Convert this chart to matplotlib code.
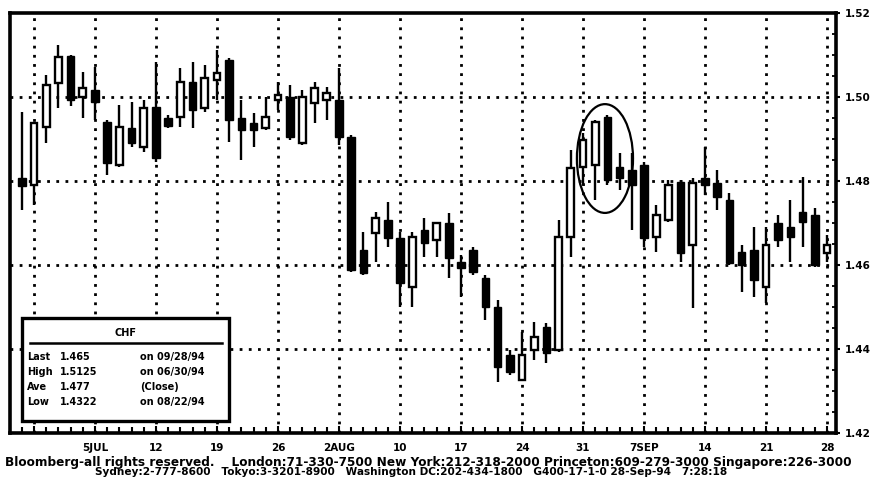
import matplotlib
matplotlib.use("Agg")
import matplotlib.pyplot as plt
from matplotlib.patches import Ellipse, Rectangle
from matplotlib.lines import Line2D
import numpy as np

plt.rcParams['font.family'] = ['DejaVu Sans']
plt.rcParams['font.weight'] = 'bold'

# Daily CHF bars (trading-day index; 0 = week before 5 July)
day_index = list(range(-1, 66))
opens = [1.4807, 1.4790, 1.4929, 1.5033, 1.5098, 1.5000, 1.5017, 1.4940, 1.4838, 1.4926,
         1.4881, 1.4976, 1.4950, 1.4952, 1.5036, 1.4974, 1.5040, 1.5088, 1.4950, 1.4938,
         1.4926, 1.4993, 1.5000, 1.4890, 1.4986, 1.4993, 1.4993, 1.4905, 1.4636, 1.4676,
         1.4707, 1.4664, 1.4548, 1.4683, 1.4660, 1.4700, 1.4607, 1.4636, 1.4569, 1.4500,
         1.4386, 1.4326, 1.4398, 1.4452, 1.4398, 1.4667, 1.4833, 1.4838, 1.4952, 1.4833,
         1.4826, 1.4838, 1.4667, 1.4707, 1.4798, 1.4648, 1.4807, 1.4795, 1.4755, 1.4631,
         1.4636, 1.4548, 1.4700, 1.4690, 1.4726, 1.4719, 1.4629]
highs = [1.4964, 1.4940, 1.5052, 1.5125, 1.5100, 1.5060, 1.5071, 1.4945, 1.4981, 1.4988,
         1.4993, 1.5083, 1.4957, 1.5069, 1.5083, 1.5076, 1.5112, 1.5093, 1.4993, 1.4962,
         1.5000, 1.5036, 1.5029, 1.5017, 1.5036, 1.5024, 1.5069, 1.4910, 1.4679, 1.4726,
         1.4750, 1.4679, 1.4679, 1.4712, 1.4702, 1.4724, 1.4624, 1.4643, 1.4576, 1.4517,
         1.4398, 1.4440, 1.4464, 1.4462, 1.4707, 1.4874, 1.4914, 1.4945, 1.4957, 1.4867,
         1.4867, 1.4845, 1.4743, 1.4802, 1.4802, 1.4807, 1.4881, 1.4826, 1.4771, 1.4648,
         1.4690, 1.4690, 1.4719, 1.4755, 1.4810, 1.4736, 1.4671]
lows = [1.4731, 1.4743, 1.4890, 1.4974, 1.4979, 1.4950, 1.4945, 1.4814, 1.4833, 1.4881,
        1.4869, 1.4845, 1.4926, 1.4929, 1.4926, 1.4964, 1.4993, 1.4893, 1.4850, 1.4881,
        1.4921, 1.4969, 1.4898, 1.4886, 1.4938, 1.4945, 1.4886, 1.4583, 1.4576, 1.4607,
        1.4643, 1.4500, 1.4500, 1.4619, 1.4619, 1.4569, 1.4524, 1.4576, 1.4469, 1.4322,
        1.4338, 1.4325, 1.4374, 1.4367, 1.4393, 1.4619, 1.4790, 1.4755, 1.4790, 1.4779,
        1.4683, 1.4643, 1.4631, 1.4702, 1.4607, 1.4498, 1.4767, 1.4731, 1.4600, 1.4536,
        1.4524, 1.4510, 1.4643, 1.4607, 1.4643, 1.4595, 1.4607]
closes = [1.4788, 1.4938, 1.5029, 1.5095, 1.4993, 1.5021, 1.4988, 1.4843, 1.4929, 1.4890,
          1.4974, 1.4855, 1.4931, 1.5036, 1.4969, 1.5045, 1.5057, 1.4945, 1.4921, 1.4921,
          1.4952, 1.5005, 1.4905, 1.5000, 1.5021, 1.5010, 1.4905, 1.4588, 1.4581, 1.4712,
          1.4664, 1.4557, 1.4667, 1.4652, 1.4700, 1.4617, 1.4593, 1.4583, 1.4500, 1.4357,
          1.4345, 1.4386, 1.4429, 1.4390, 1.4667, 1.4831, 1.4898, 1.4940, 1.4802, 1.4807,
          1.4790, 1.4664, 1.4719, 1.4790, 1.4629, 1.4795, 1.4790, 1.4762, 1.4605, 1.4600,
          1.4564, 1.4648, 1.4660, 1.4667, 1.4702, 1.4600, 1.4648]

week_ticks = list(range(0, 66, 5))
week_labels = ['', '5JUL', '12', '19', '26', '2AUG', '10', '17', '24', '31', '7SEP', '14', '21', '28']
price_ticks = [1.42, 1.44, 1.46, 1.48, 1.50, 1.52]
price_labels = ['1.42', '1.44', '1.46', '1.48', '1.50', '1.52']

stat_names = ['Last', 'High', 'Ave', 'Low']
stat_notes = ['on 09/28/94', 'on 06/30/94', '(Close)', 'on 08/22/94']

W, H = 873, 486
fig = plt.figure(figsize=(W / 100, H / 100), dpi=100)
fig.patch.set_facecolor('white')


def fx(px):
    return px / W


def fy(py):
    return 1 - py / H


ax = fig.add_axes([fx(10), fy(433), (836 - 10) / W, (433 - 13) / H])
ax.set_facecolor('white')

x = np.array(day_index)
o = np.array(opens)
c = np.array(closes)
hi = np.array(highs)
lo = np.array(lows)
up = c >= o

ax.vlines(x, lo, hi, color='black', linewidth=1.7, zorder=3)
ax.bar(x[~up], (o - c)[~up], bottom=c[~up], width=0.62, color='black',
       edgecolor='black', linewidth=1.0, zorder=4)
ax.bar(x[up], (c - o)[up], bottom=o[up], width=0.56, color='white',
       edgecolor='black', linewidth=1.7, zorder=4)

ax.set_xlim((10 - 34) / 12.2, (836 - 34) / 12.2)
ax.set_ylim(1.42, 1.52)

# dotted grid
dots = (0, (1, 2.3))
for t in week_ticks:
    ax.axvline(t, color='black', linestyle=dots, linewidth=2.0, zorder=1)
for p in price_ticks[1:-1]:
    ax.axhline(p, color='black', linestyle=dots, linewidth=2.0, zorder=1)

ax.set_xticks(week_ticks)
ax.set_xticklabels(week_labels)
ax.set_xticks(day_index, minor=True)
ax.tick_params(axis='x', which='both', direction='in', top=False, length=4,
               width=1.5, pad=7, labelsize=7.5)
ax.tick_params(axis='x', which='major', length=5)

ax.yaxis.tick_right()
ax.set_yticks(price_ticks)
ax.set_yticklabels(price_labels)
ax.set_yticks(np.arange(1.42, 1.5201, 0.005), minor=True)
ax.tick_params(axis='y', which='major', direction='out', length=3, width=1.5,
               pad=3, labelsize=7.5, left=False, right=True)
ax.tick_params(axis='y', which='minor', direction='in', length=3, width=1.3,
               left=False, right=True)
for lab in ax.get_xticklabels() + ax.get_yticklabels():
    lab.set_fontweight('bold')

for s in ax.spines.values():
    s.set_linewidth(2.6)
    s.set_color('black')

# circled reversal area
ax.add_patch(Ellipse((46.8, 1.48535), 4.6, 0.0259, fill=False,
                     edgecolor='black', linewidth=1.6, zorder=5))

# statistics box
last = c[-1]
high = hi.max()
low = lo.min()
ave = c.mean()
stat_values = [f'{last:.3f}', f'{high:.4f}', f'{ave:.3f}', f'{low:.4f}']

box = Rectangle((fx(22), fy(421)), (229 - 22) / W, (421 - 318) / H,
                transform=fig.transFigure, facecolor='white', edgecolor='black',
                linewidth=2.4, zorder=10)
fig.add_artist(box)
fig.text(fx(126), fy(333), 'CHF', ha='center', va='center', fontsize=7,
         fontweight='bold', zorder=11)
fig.add_artist(Line2D([fx(30), fx(222)], [fy(343), fy(343)], color='black',
                      linewidth=1.8, transform=fig.transFigure, zorder=11))
for i, (n, v, note) in enumerate(zip(stat_names, stat_values, stat_notes)):
    yy = fy(357 + 15 * i)
    fig.text(fx(27), yy, n, ha='left', va='center', fontsize=7, fontweight='bold', zorder=11)
    fig.text(fx(60), yy, v, ha='left', va='center', fontsize=7, fontweight='bold', zorder=11)
    fig.text(fx(140), yy, note, ha='left', va='center', fontsize=7, fontweight='bold', zorder=11)

# footer
footer1 = ('Bloomberg-all rights reserved.    London:71-330-7500 New York:212-318-2000 '
           'Princeton:609-279-3000 Singapore:226-3000')
footer2 = ('Sydney:2-777-8600   Tokyo:3-3201-8900   Washington DC:202-434-1800   '
           'G400-17-1-0 28-Sep-94   7:28:18')
t1 = fig.text(fx(5), fy(462), footer1, ha='left', va='center', fontsize=6.5, fontweight='bold')
t2 = fig.text(fx(95), fy(472), footer2, ha='left', va='center', fontsize=6.5, fontweight='bold')

fig.canvas.draw()
r = fig.canvas.get_renderer()
for t, target in ((t1, 845), (t2, 625)):
    w = t.get_window_extent(r).width
    t.set_fontsize(t.get_fontsize() * target / w)

fig.savefig('out.png', dpi=100, facecolor='white')
